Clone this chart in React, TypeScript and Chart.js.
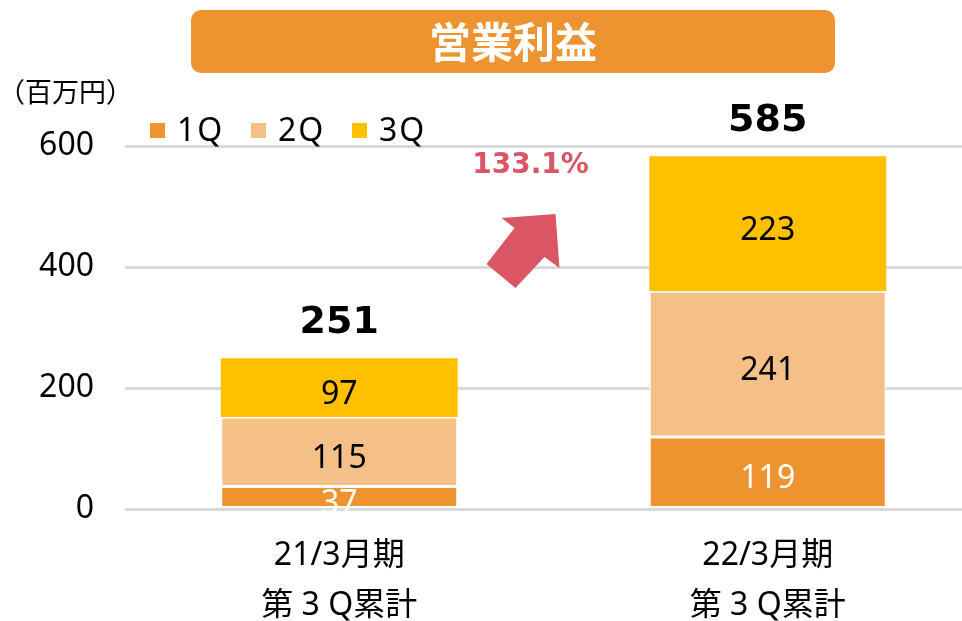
import React, { useEffect, useRef } from 'react';
import { Chart, registerables } from 'chart.js';

Chart.register(...registerables);

const categories = [['21/3月期', '第 3 Q累計'], ['22/3月期', '第 3 Q累計']];
const seriesNames = ['1Q', '2Q', '3Q'];
const q1Values = [37, 119];
const q2Values = [115, 241];
const q3Values = [97, 223];
const totals = [251, 585];
const growthLabel = '133.1%';
const yTickValues = [0, 200, 400, 600];
const titleText = '営業利益';
const unitText = '（百万円）';

const seriesColors = ['#ED9431', '#F4C087', '#FFC000'];
const labelColors = ['#FFFFFF', '#000000', '#000000'];
const ORANGE = '#ED9431';
const RED = '#DA5664';
const GRID = '#D9D9D9';
const LATIN = "'Noto Sans', 'Noto Sans CJK JP', sans-serif";
const CJK = "'Noto Sans CJK JP', 'Noto Sans', sans-serif";
const BOLD = "'DejaVu Sans', 'Noto Sans', sans-serif";

// arrow outline, offsets relative to the point midway between the two bars at chart top
const arrowShape: [number, number][] = [
  [-52, 72], [2, 68], [6, 122], [-9, 111], [-38, 142], [-67, 118], [-39, 82],
];

const decorPlugin = {
  id: 'decor',
  afterDatasetsDraw(chart: any) {
    const ctx = chart.ctx;
    const yScale = chart.scales.y;
    ctx.save();
    ctx.textAlign = 'center';
    ctx.textBaseline = 'middle';
    ctx.font = `32px ${LATIN}`;
    chart.data.datasets.forEach((ds: any, di: number) => {
      const meta = chart.getDatasetMeta(di);
      meta.data.forEach((el: any, i: number) => {
        const p = el.getProps(['x', 'y', 'base'], true);
        ctx.fillStyle = labelColors[di];
        ctx.fillText(String(ds.data[i]), p.x, (p.y + p.base) / 2 + 7);
      });
    });
    // totals
    const meta0 = chart.getDatasetMeta(0);
    ctx.fillStyle = '#000';
    ctx.font = `bold 38px ${BOLD}`;
    totals.forEach((t, i) => {
      const px = meta0.data[i].x;
      ctx.fillText(String(t), px, yScale.getPixelForValue(t) - 34);
    });
    ctx.restore();
  },
  afterDraw(chart: any) {
    const ctx = chart.ctx;
    const area = chart.chartArea;
    const xScale = chart.scales.x;
    ctx.save();
    // title banner
    ctx.fillStyle = ORANGE;
    ctx.beginPath();
    (ctx as any).roundRect(191, 10, 644, 63, 10);
    ctx.fill();
    ctx.fillStyle = '#FFFFFF';
    ctx.font = `bold 42px ${CJK}`;
    ctx.textAlign = 'center';
    ctx.textBaseline = 'middle';
    ctx.fillText(titleText, 513, 42);

    // unit label
    ctx.fillStyle = '#000';
    ctx.font = `27px ${CJK}`;
    ctx.textAlign = 'left';
    ctx.fillText(unitText, -2, 92);

    // legend
    ctx.font = `32px ${LATIN}`;
    ctx.textBaseline = 'middle';
    const legendX = [area.left + 25, area.left + 126, area.left + 227];
    seriesNames.forEach((name, i) => {
      ctx.fillStyle = seriesColors[i];
      ctx.fillRect(legendX[i], 123, 15, 15);
      ctx.fillStyle = '#000';
      (ctx as any).letterSpacing = '2px';
      ctx.fillText(name, legendX[i] + 27, 132);
    });
    (ctx as any).letterSpacing = '0px';

    // growth arrow
    const midX = (xScale.getPixelForValue(0) + xScale.getPixelForValue(1)) / 2;
    const topY = area.top;
    ctx.fillStyle = RED;
    ctx.beginPath();
    arrowShape.forEach(([dx, dy], i) => {
      if (i === 0) ctx.moveTo(midX + dx, topY + dy);
      else ctx.lineTo(midX + dx, topY + dy);
    });
    ctx.closePath();
    ctx.fill();

    ctx.font = `bold 28px ${BOLD}`;
    ctx.textAlign = 'center';
    ctx.fillText(growthLabel, midX - 23, topY + 20);
    ctx.restore();
  },
};

export default function App() {
  const ref = useRef<HTMLCanvasElement | null>(null);
  useEffect(() => {
    document.body.style.margin = '0';
    if (!ref.current) return;
    const data = [q1Values, q2Values, q3Values];
    const chart = new Chart(ref.current, {
      type: 'bar',
      data: {
        labels: categories as any,
        datasets: seriesNames.map((name, i) => ({
          label: name,
          data: data[i],
          backgroundColor: seriesColors[i],
          borderColor: '#FFFFFF',
          borderWidth: i < 2 ? 1.5 : 0,
          borderSkipped: false,
          categoryPercentage: 1,
          barPercentage: 0.553,
        })),
      },
      options: {
        responsive: false,
        animation: false,
        layout: { padding: { top: 146, left: 0, right: 0, bottom: 0 } },
        plugins: { legend: { display: false }, tooltip: { enabled: false } },
        scales: {
          x: {
            stacked: true,
            grid: { display: false },
            border: { display: false },
            ticks: {
              color: '#000',
              padding: 14,
              font: { family: LATIN, size: 32, lineHeight: 1.56 },
            },
            afterFit: (s: any) => { s.height = 112; },
          },
          y: {
            stacked: true,
            min: 0,
            max: 600,
            afterBuildTicks: (s: any) => { s.ticks = yTickValues.map((v) => ({ value: v })); },
            grid: { color: GRID, lineWidth: 3, drawTicks: false },
            border: { display: false },
            ticks: {
              color: '#000',
              padding: 31,
              font: { family: LATIN, size: 32 },
            },
            afterFit: (s: any) => { s.width = 125; },
          },
        },
      },
      plugins: [decorPlugin],
    });
    return () => chart.destroy();
  }, []);
  return (
    <div style={{ width: 962, height: 621, overflow: 'hidden', background: '#fff' }}>
      <canvas ref={ref} width={982} height={621} style={{ display: 'block' }} />
    </div>
  );
}
